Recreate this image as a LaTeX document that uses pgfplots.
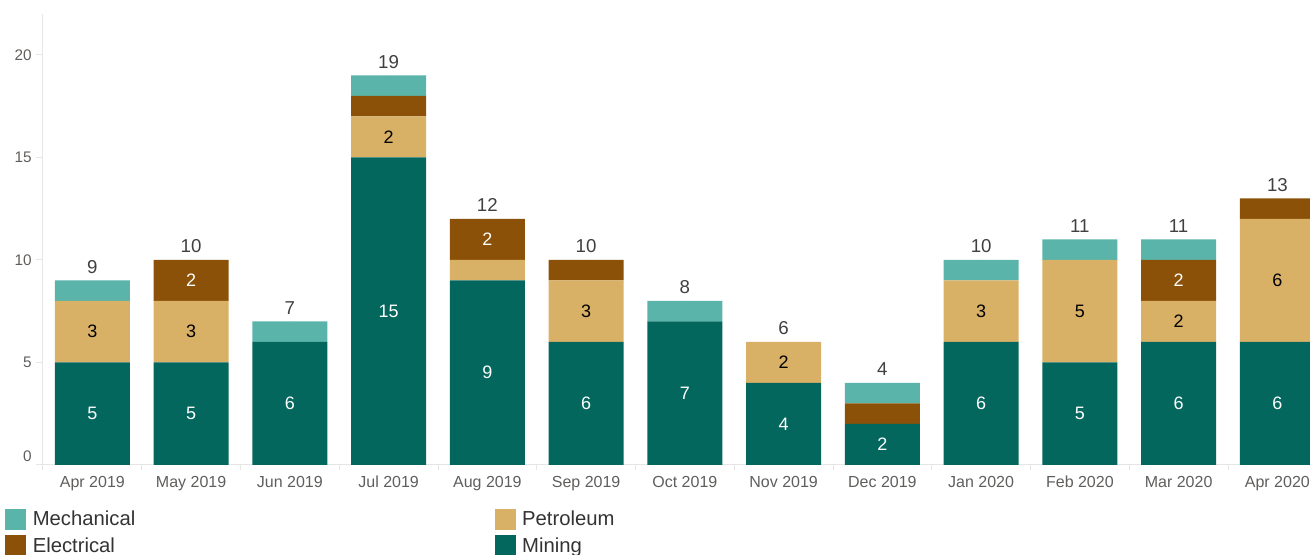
\documentclass[border=0pt]{standalone}
\usepackage{pgfplots}
\pgfplotsset{compat=1.18}
\usepackage{fontspec}
\setmainfont{Liberation Sans}
\definecolor{mining}{HTML}{03675E}
\definecolor{petrol}{HTML}{D9B166}
\definecolor{elec}{HTML}{8B5108}
\definecolor{mech}{HTML}{5AB4AA}
\definecolor{ticktext}{HTML}{605E5C}
\definecolor{totaltext}{HTML}{404040}
\definecolor{legtext}{HTML}{333333}
\definecolor{axisline}{HTML}{E6E6E6}

\pgfplotsset{base/.style={
  scale only axis, width=962.8125pt, height=338.25pt,
  xmin=-0.5, xmax=12.5, ymin=0, ymax=22,
  at={(0,0)}, anchor=south west,
},
seglab/.style={only marks, mark=*, mark size=0pt, mark options={draw=none, fill=none},
  point meta=explicit symbolic, nodes near coords={\pgfplotspointmeta},
  nodes near coords style={anchor=center, inner sep=0pt, font=\fontsize{13.5}{15}\selectfont, text=#1}},
}
\begin{document}
\begin{tikzpicture}
\begin{axis}[base,
  ybar stacked, bar width=0.76,
  axis x line*=bottom, axis y line*=left,
  axis line style={draw=axisline, line width=0.75pt},
  xtick={0,...,12},
  xticklabels={Apr 2019,May 2019,Jun 2019,Jul 2019,Aug 2019,Sep 2019,Oct 2019,Nov 2019,Dec 2019,Jan 2020,Feb 2020,Mar 2020,Apr 2020},
  ytick={5,10,15,20},
  extra y ticks={0},
  extra y tick style={y tick label style={yshift=6.75pt}},
  tick align=outside,
  major tick length=5pt,
  tick style={draw=axisline, line width=0.75pt},
  major x tick style={draw=none},
  extra x ticks={-0.5,0.5,...,12.5},
  extra x tick labels={},
  extra x tick style={major x tick style={draw=axisline}, major tick length=4pt},
  x tick label style={font=\fontsize{12}{14}\selectfont, text=ticktext},
  y tick label style={font=\fontsize{11.5}{14}\selectfont, text=ticktext},
  /pgf/number format/assume math mode=true,
  clip=true,
]
% Mining
\addplot[fill=mining, draw=none] coordinates {(0,5) (1,5) (2,6) (3,15) (4,9) (5,6) (6,7) (7,4) (8,2) (9,6) (10,5) (11,6) (12,6)};
% Petroleum
\addplot[fill=petrol, draw=none] coordinates {(0,3) (1,3) (2,0) (3,2) (4,1) (5,3) (6,0) (7,2) (8,0) (9,3) (10,5) (11,2) (12,6)};
% Electrical
\addplot[fill=elec, draw=none] coordinates {(0,0) (1,2) (2,0) (3,1) (4,2) (5,1) (6,0) (7,0) (8,1) (9,0) (10,0) (11,2) (12,1)};
% Mechanical
\addplot[fill=mech, draw=none] coordinates {(0,1) (1,0) (2,1) (3,1) (4,0) (5,0) (6,1) (7,0) (8,1) (9,1) (10,1) (11,1) (12,0)};
\end{axis}
\begin{axis}[base, hide axis, clip=false,
  legend columns=2,
  legend cell align=left,
  legend style={at={(-0.0296,-0.0965)}, anchor=north west, draw=none, fill=none,
    inner sep=0pt, row sep=4.5pt, font=\fontsize{15.2}{18}\selectfont, text=legtext,
    nodes={inner sep=0pt},
    /tikz/every odd column/.append style={column sep=5.25pt},
    /tikz/every even column/.append style={column sep=269.5pt}},
]
\addlegendimage{legend image code/.code={\fill[mech] (0pt,-7.25pt) rectangle (15pt,7.75pt);}}
\addlegendentry{Mechanical}
\addlegendimage{legend image code/.code={\fill[petrol] (0pt,-7.25pt) rectangle (15pt,7.75pt);}}
\addlegendentry{Petroleum}
\addlegendimage{legend image code/.code={\fill[elec] (0pt,-7.25pt) rectangle (15pt,7.75pt);}}
\addlegendentry{Electrical}
\addlegendimage{legend image code/.code={\fill[mining] (0pt,-7.25pt) rectangle (15pt,7.75pt);}}
\addlegendentry{Mining}
% segment labels: Mining (white)
\addplot[seglab=white] coordinates {(0,2.5)[5] (1,2.5)[5] (2,3)[6] (3,7.5)[15] (4,4.5)[9] (5,3)[6] (6,3.5)[7] (7,2)[4] (8,1)[2] (9,3)[6] (10,2.5)[5] (11,3)[6] (12,3)[6]};
% Petroleum (black)
\addplot[seglab=black] coordinates {(0,6.5)[3] (1,6.5)[3] (3,16)[2] (5,7.5)[3] (7,5)[2] (9,7.5)[3] (10,7.5)[5] (11,7)[2] (12,9)[6]};
% Electrical (white)
\addplot[seglab=white] coordinates {(1,9)[2] (4,11)[2] (11,9)[2]};
% totals
\addplot[only marks, mark=*, mark size=0pt, mark options={draw=none, fill=none},
  point meta=explicit symbolic, nodes near coords={\pgfplotspointmeta},
  nodes near coords style={anchor=south, inner sep=0pt, yshift=5.25pt, font=\fontsize{14}{16}\selectfont, text=totaltext}]
  coordinates {(0,9)[9] (1,10)[10] (2,7)[7] (3,19)[19] (4,12)[12] (5,10)[10] (6,8)[8] (7,6)[6] (8,4)[4] (9,10)[10] (10,11)[11] (11,11)[11] (12,13)[13]};
\end{axis}
\pgfresetboundingbox
\path[use as bounding box] (-32.25pt,-67.5pt) rectangle (950.25pt,348.75pt);
\end{tikzpicture}
\end{document}
